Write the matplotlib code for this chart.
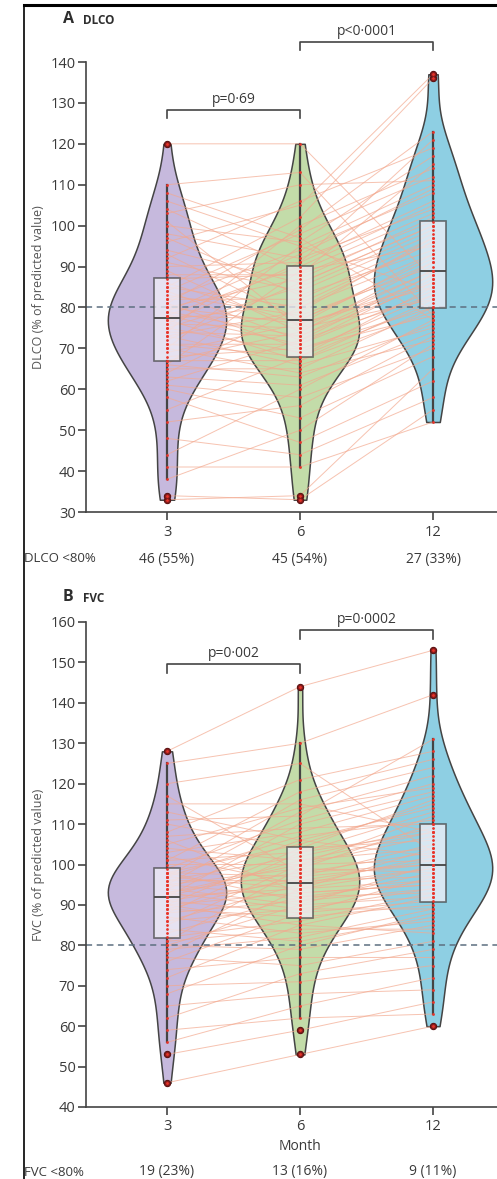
import numpy as np
import matplotlib
matplotlib.use("Agg")
import matplotlib.pyplot as plt
from matplotlib.lines import Line2D

plt.rcParams['font.family'] = ['Open Sans', 'DejaVu Sans']

# months on the x axis
months = ["3", "6", "12"]

# DLCO (% predicted) per patient, same patient order in each list
dlco_3 = [33, 34, 38, 41, 44, 48, 52, 55, 58, 60,
          61, 62, 63, 64, 65, 66, 66, 67, 67, 68,
          69, 70, 70, 71, 71, 72, 73, 73, 74, 74,
          75, 75, 76, 76, 77, 77, 78, 78, 78, 79,
          79, 80, 80, 81, 81, 82, 82, 83, 84, 84,
          85, 85, 86, 87, 88, 89, 90, 91, 92, 93,
          94, 96, 97, 98, 100, 101, 103, 104, 106, 108,
          110, 120]
dlco_6 = [34, 33, 50, 41, 60, 44, 56, 68, 47, 53,
          58, 72, 61, 80, 65, 63, 89, 67, 74, 70,
          76, 64, 95, 68, 71, 86, 66, 79, 73, 100,
          69, 85, 75, 91, 67, 81, 90, 71, 77, 93,
          73, 87, 76, 99, 70, 82, 94, 78, 72, 98,
          80, 102, 76, 88, 88, 74, 91, 84, 106, 77,
          86, 105, 83, 92, 96, 75, 110, 89, 95, 97,
          113, 120]
dlco_12 = [65, 55, 71, 52, 77, 58, 73, 85, 62, 68,
           70, 88, 74, 96, 80, 76, 103, 82, 91, 78,
           93, 72, 110, 81, 84, 100, 75, 97, 86, 114,
           83, 99, 89, 121, 79, 96, 105, 87, 92, 109,
           88, 102, 85, 123, 80, 97, 108, 90, 83, 112,
           93, 136, 86, 101, 115, 89, 106, 98, 119, 91,
           100, 137, 94, 104, 117, 82, 111, 95, 84, 77,
           78, 87]

# FVC (% predicted) per patient
fvc_3 = [46, 53, 56, 59, 62, 65, 68, 70, 72, 74,
         76, 77, 78, 79, 80, 80, 81, 81, 82, 83,
         84, 85, 86, 86, 87, 88, 88, 89, 89, 90,
         90, 90, 91, 91, 92, 92, 92, 93, 93, 93,
         94, 94, 95, 95, 95, 96, 96, 97, 97, 97,
         98, 98, 98, 99, 100, 101, 101, 102, 103, 104,
         105, 106, 107, 108, 110, 111, 113, 115, 117, 120,
         125, 128]
fvc_6 = [53, 59, 65, 62, 73, 68, 80, 71, 85, 77,
         88, 75, 94, 82, 79, 90, 84, 99, 86, 92,
         81, 100, 89, 95, 83, 103, 91, 87, 97, 93,
         85, 104, 96, 88, 101, 94, 110, 89, 98, 100,
         106, 90, 99, 113, 92, 102, 96, 107, 94, 116,
         91, 105, 97, 111, 100, 103, 118, 95, 108, 101,
         114, 93, 109, 121, 104, 112, 106, 115, 98, 125,
         130, 144]
fvc_12 = [60, 66, 72, 63, 79, 69, 88, 75, 92, 77,
          97, 81, 104, 89, 85, 100, 84, 110, 93, 96,
          87, 112, 94, 102, 86, 113, 98, 90, 105, 95,
          83, 116, 101, 91, 108, 99, 118, 89, 103, 107,
          114, 92, 98, 122, 93, 109, 97, 111, 96, 124,
          94, 115, 100, 120, 101, 108, 126, 99, 117, 104,
          119, 95, 110, 128, 106, 131, 102, 108, 100, 103,
          142, 153]

dlco_below = ["46 (55%)", "45 (54%)", "27 (33%)"]
fvc_below = ["19 (23%)", "13 (16%)", "9 (11%)"]
dlco_p = ["p=0·69", "p<0·0001"]
fvc_p = ["p=0·002", "p=0·0002"]

violin_colors = ["#c6b9dd", "#c3dca9", "#8ecfe3"]
grey = "#444444"
txt_col = "#3a3a3a"
W, H = 497, 1179


def draw_panel(ax, series, ylim, yticks, ylabel, pvals, p_levels):
    pos = [0, 1, 2]
    vp = ax.violinplot(series, positions=pos, widths=0.89, showextrema=False,
                       bw_method=0.38)
    for body, c in zip(vp['bodies'], violin_colors):
        body.set_facecolor(c)
        body.set_edgecolor(grey)
        body.set_linewidth(1.1)
        body.set_alpha(1)
        body.set_zorder(1)

    # paired lines, one per patient
    for vals in zip(*series):
        ax.plot(pos, vals, color="#f3a98f", lw=0.7, alpha=0.7, zorder=2)

    ax.axhline(80, color="#5d6f80", lw=1.1, ls=(0, (4, 3)), zorder=2.5)

    ax.boxplot(series, positions=pos, widths=0.2, patch_artist=True,
               showcaps=False, zorder=3,
               boxprops=dict(facecolor="#f2f0f8", alpha=0.75, edgecolor=grey, lw=1.2),
               medianprops=dict(color=grey, lw=1.3),
               whiskerprops=dict(color=grey, lw=1.6),
               flierprops=dict(marker='o', markerfacecolor="#8e1c1c",
                               markeredgecolor="#5c1212", markersize=4.5,
                               markeredgewidth=0.8))
    for p, vals in zip(pos, series):
        ax.scatter(np.full(len(vals), p), vals, s=4, color="#e8342a",
                   zorder=4, linewidths=0)

    ax.set_xlim(-0.609, 2.481)
    ax.set_ylim(*ylim)
    ax.set_yticks(yticks)
    ax.set_xticks(pos)
    ax.set_xticklabels(months)
    for s in ["top", "right"]:
        ax.spines[s].set_visible(False)
    for s in ["left", "bottom"]:
        ax.spines[s].set_color(grey)
        ax.spines[s].set_linewidth(1.2)
    ax.tick_params(colors=grey, labelcolor=txt_col, labelsize=10.5,
                   length=6, width=1.2, direction="out")
    ax.tick_params(axis='x', pad=3)
    ax.tick_params(axis='y', pad=1.5)
    ax.set_ylabel(ylabel, fontsize=9, color="#555555", labelpad=4)

    # significance brackets
    tick = (ylim[1] - ylim[0]) * 0.0176
    for (x0, x1), txt, yb in zip([(0, 1), (1, 2)], pvals, p_levels):
        ax.plot([x0, x0, x1, x1], [yb - tick, yb, yb, yb - tick], color=grey,
                lw=1.2, clip_on=False, zorder=5)
        ax.text((x0 + x1) / 2, yb + tick * 0.4, txt, ha="center", va="bottom",
                fontsize=10, color=txt_col, clip_on=False)


fig = plt.figure(figsize=(W / 100, H / 100), dpi=100)

ax1 = fig.add_axes([86 / W, 1 - 512 / H, 411 / W, 450 / H])
draw_panel(ax1, [dlco_3, dlco_6, dlco_12], (30, 140), range(30, 141, 10),
           "DLCO (% of predicted value)", dlco_p, [128.3, 144.9])

ax2 = fig.add_axes([86 / W, 1 - 1107 / H, 411 / W, 485 / H])
draw_panel(ax2, [fvc_3, fvc_6, fvc_12], (40, 160), range(40, 161, 10),
           "FVC (% of predicted value)", fvc_p, [149.6, 158.0])
ax2.text(1, -0.081, "Month", transform=ax2.get_xaxis_transform(), ha="center",
         va="center", fontsize=10, color=txt_col)

# counts below 80%
for ax, lab, vals, ypx, base, span in [(ax1, "DLCO <80%", dlco_below, 559, 512, 450),
                                       (ax2, "FVC <80%", fvc_below, 1172, 1107, 485)]:
    yfrac = (base - ypx) / span
    for i, v in enumerate(vals):
        ax.text(i, yfrac, v, transform=ax.get_xaxis_transform(), ha="center",
                va="center", fontsize=10, color=txt_col, clip_on=False)
    fig.text(24 / W, 1 - ypx / H, lab, ha="left", va="center", fontsize=9.5,
             color=txt_col)

# panel titles
for ypx, letter, name in [(19, "A", "DLCO"), (597, "B", "FVC")]:
    fig.text(63 / W, 1 - ypx / H, letter, ha="left", va="center", fontsize=11.5,
             fontweight="bold", color="#2e2e2e")
    fig.text(83 / W, 1 - (ypx + 1) / H, name, ha="left", va="center", fontsize=8.5,
             fontweight="bold", color="#2e2e2e")

# frame of the original page
fig.add_artist(Line2D([24 / W, 24 / W], [0, 1 - 5 / H], transform=fig.transFigure,
                      color="black", lw=1.2))
fig.add_artist(Line2D([24 / W, 1], [1 - 5 / H, 1 - 5 / H], transform=fig.transFigure,
                      color="black", lw=2.2))

fig.savefig("out.png", dpi=100)
